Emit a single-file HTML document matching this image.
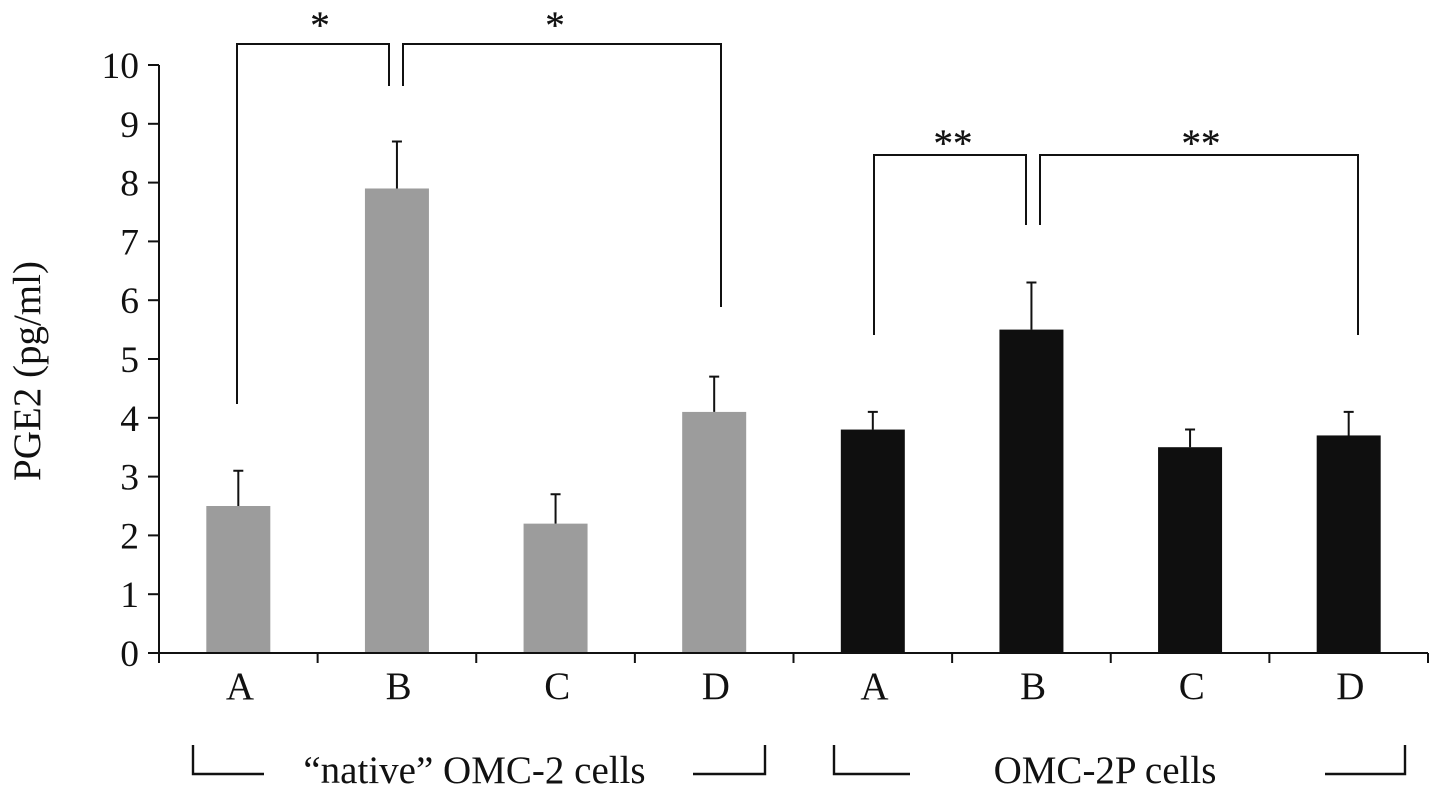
<!DOCTYPE html>
<html><head><meta charset="utf-8"><style>
html,body{margin:0;padding:0;background:#fff}
svg{display:block}
text{font-family:"Liberation Serif",serif;fill:#111}
</style></head><body>
<svg id="chart" width="1441" height="796" viewBox="0 0 1441 796" xmlns="http://www.w3.org/2000/svg">
<rect width="1441" height="796" fill="#fff"/>
<g id="ann" stroke="#111" stroke-width="2" fill="none">
<path d="M237 404V44H389V86"/>
<path d="M403 86V44H721V307"/>
<path d="M874 335V155H1026V225"/>
<path d="M1040 225V155H1358V335"/>
<path stroke-width="2.4" d="M193 745V774H264"/>
<path stroke-width="2.4" d="M693 774H765V745"/>
<path stroke-width="2.4" d="M834 745V774H910"/>
<path stroke-width="2.4" d="M1325 774H1405V745"/>
</g>
<text x="320" y="38" font-size="39" stroke="#111" stroke-width="0.3" text-anchor="middle">*</text>
<text x="555" y="38" font-size="39" stroke="#111" stroke-width="0.3" text-anchor="middle">*</text>
<text x="953" y="156" font-size="39" stroke="#111" stroke-width="0.3" text-anchor="middle">**</text>
<text x="1201" y="156" font-size="39" stroke="#111" stroke-width="0.3" text-anchor="middle">**</text>
<text transform="translate(40 371) rotate(-90)" font-size="39" text-anchor="middle">PGE2 (pg/ml)</text>
<text x="474.5" y="783" font-size="39" text-anchor="middle">“native” OMC-2 cells</text>
<text x="1105" y="783" font-size="39" text-anchor="middle">OMC-2P cells</text>
<g id="marks"></g>
</svg>
<script>
const categories = ["A","B","C","D","A","B","C","D"];
const seriesValues = [2.5,7.9,2.2,4.1,3.8,5.5,3.5,3.7];
const errorValues = [0.6,0.8,0.5,0.6,0.3,0.8,0.3,0.4];
const groupNames = ["native","native","native","native","omc","omc","omc","omc"];
const yTicks = [0,1,2,3,4,5,6,7,8,9,10];
const groupColors = {native:"#9c9c9c",omc:"#0f0f0f"};
const NS = "http://www.w3.org/2000/svg";
const marks = document.getElementById("marks");
const x0 = 159, x1 = 1428, y0 = 653, yTop = 65;
const band = (x1 - x0) / categories.length;
const barW = 64;
function yScale(v){ return y0 - v * (y0 - yTop) / 10; }
function xScale(i){ return x0 + band * i + band / 2; }
function add(tag, attrs, text){
  const el = document.createElementNS(NS, tag);
  for (const k in attrs) el.setAttribute(k, attrs[k]);
  if (text !== undefined) el.textContent = text;
  marks.appendChild(el);
  return el;
}
seriesValues.forEach((v,i)=>{
  const cx = xScale(i);
  const bar = add("rect",{x:cx-barW/2,y:yScale(v),width:barW,height:y0-yScale(v),fill:groupColors[groupNames[i]]});
  
  
  const top = yScale(v + errorValues[i]);
  const err = add("path",{d:`M${cx} ${yScale(v)}V${top}M${cx-5} ${top}H${cx+5}`,stroke:"#111","stroke-width":2,fill:"none"});
  
  
  const label = add("text",{x:cx+1.7,y:699,"font-size":39,"text-anchor":"middle"},categories[i]);
  
  
});
const xAxis = add("line",{x1:x0,x2:x1,y1:y0,y2:y0,stroke:"#111","stroke-width":2});


const yAxis = add("line",{x1:x0,x2:x0,y1:yTop,y2:y0,stroke:"#111","stroke-width":2});


categories.concat([""]).forEach((c,i)=>{
  const tx = x0 + band * i;
  const t = add("line",{x1:tx,x2:tx,y1:y0,y2:y0+10,stroke:"#111","stroke-width":2});
  
  
});
yTicks.forEach(v=>{
  const y = yScale(v);
  const t = add("line",{x1:x0-11,x2:x0,y1:y,y2:y,stroke:"#111","stroke-width":2});
  
  
  const l = add("text",{x:x0-20,y:y+13,"font-size":37.5,"text-anchor":"end"},v);
  
  
});
</script>
</body></html>
